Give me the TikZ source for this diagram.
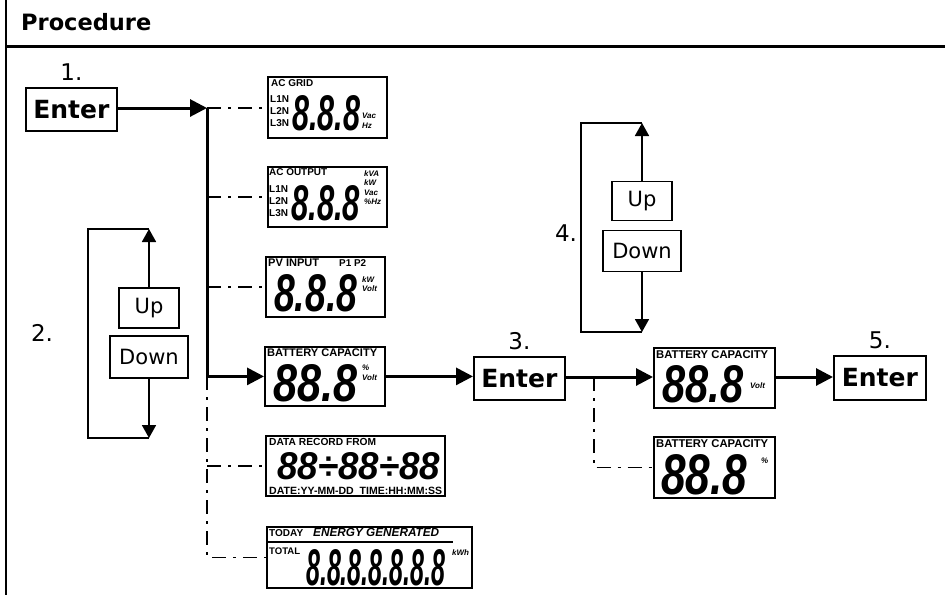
\documentclass[tikz,border=0pt]{standalone}
\usepackage{fontspec}
\usepackage{graphicx}
\setmainfont{DejaVu Sans}
\newfontfamily\lcdsans{Liberation Sans}
\usetikzlibrary{positioning, arrows.meta, calc}

% seven segment style readout, squeezed to a given width and height
\newcommand{\segs}[3]{\resizebox{#1}{#2}{\lcdsans\bfseries\itshape #3}}
% small print of a display, set to a given width
\newcommand{\fitw}[2]{\resizebox{#1}{!}{#2}}

\tikzset{
  entr/.style={draw, line width=1.8pt, inner sep=0pt, minimum width=91pt, minimum height=43pt,
    font=\fontsize{25}{25}\selectfont\bfseries},
  updn/.style={draw, line width=1.5pt, inner sep=0pt, minimum height=40pt,
    font=\fontsize{21}{21}\selectfont},
  stepno/.style={inner sep=0pt, font=\fontsize{23}{23}\selectfont},
  lcd/.style={draw, line width=1.8pt, inner sep=0pt, anchor=north west},
  lbl/.style={inner sep=0pt, anchor=north west, font=\lcdsans\bfseries\fontsize{10}{12}\selectfont},
  lns/.style={lbl, align=left, font=\lcdsans\bfseries\fontsize{10}{12.3}\selectfont},
  unit/.style={lbl, align=left, font=\lcdsans\bfseries\itshape\fontsize{8}{9.5}\selectfont},
  dig/.style={inner sep=0pt, anchor=north west},
  flow/.style={line width=3pt, -{Triangle[length=17pt,width=17pt]}},
  branch/.style={line width=1.6pt, dash pattern=on 14pt off 7pt on 3pt off 7pt},
  updown/.style={line width=1.8pt, -{Triangle[length=13pt,width=14pt]}},
  loopline/.style={line width=1.8pt},
}

\begin{document}
\begin{tikzpicture}[x=1pt, y=-1pt]
    \useasboundingbox (0,0) rectangle (945,595);

    % frame and heading
    \draw[line width=2.5pt] (6,0) -- (6,595);
    \draw[line width=3pt] (6,46) -- (945,46);
    \node[anchor=west, inner sep=0pt, font=\bfseries\fontsize{22.5}{22.5}\selectfont] (title) at (21,22) {Procedure};

    % step 1
    \node[entr, anchor=north west] (enter1) at (25,87) {Enter};
    \node[stepno, above=6pt of enter1] (n1) {1.};

    % step 2
    \node[updn, minimum width=60pt] (up2) at (149,308) {Up};
    \node[updn, minimum width=78pt, minimum height=42pt] (down2) at (149,357) {Down};
    \node[stepno] (n2) at (42,333) {2.};
    \coordinate (l2t) at (149,229);
    \coordinate (l2b) at (149,438);
    \draw[updown] (up2.north) -- (l2t);
    \draw[updown] (down2.south) -- (l2b);
    \draw[loopline] (l2t) -- (88,229) -- (88,438) -- (l2b);

    % displays of the menu
    \node[lcd, minimum width=119pt, minimum height=61pt] (grid) at (267,76) {};
    \node[lbl] (gridt) at (271,79) {\fitw{42pt}{AC GRID}};
    \node[lns] (gridl) at (270,95) {L1N\\L2N\\L3N};
    \node[dig] (gridd) at (292,95) {\segs{68pt}{35pt}{8.8.8}};
    \node[unit] (gridu) at (362,113) {Vac\\Hz};

    \node[lcd, minimum width=119pt, minimum height=60pt] (acout) at (267,166) {};
    \node[lbl] (acoutt) at (269,168) {\fitw{58pt}{AC OUTPUT}};
    \node[lns] (acoutl) at (269,185) {L1N\\L2N\\L3N};
    \node[dig] (acoutd) at (291,185) {\segs{69pt}{35pt}{8.8.8}};
    \node[unit] (acoutu) at (364,170) {kVA\\kW\\Vac\\\%Hz};

    \node[lcd, minimum width=119pt, minimum height=60pt] (pvin) at (265,256) {};
    \node[lbl] (pvint) at (268,259) {\fitw{51pt}{PV INPUT}};
    \node[lbl] (pvinp) at (339,259) {\fitw{27pt}{P1 P2}};
    \node[dig] (pvind) at (274,274) {\segs{83pt}{37pt}{8.8.8}};
    \node[unit] (pvinu) at (362,276) {kW\\Volt};

    \node[lcd, minimum width=120pt, minimum height=59pt] (batt) at (264,346) {};
    \node[lbl] (battt) at (267,349) {\fitw{110pt}{BATTERY CAPACITY}};
    \node[dig] (battd) at (273,364) {\segs{84pt}{37pt}{88.8}};
    \node[unit] (battu) at (362,365) {\%\\Volt};

    \node[lcd, minimum width=179pt, minimum height=60pt] (rec) at (265,435) {};
    \node[lbl] (rect) at (269,438) {\fitw{107pt}{DATA RECORD FROM}};
    \node[dig] (recd) at (277,452) {\segs{163pt}{27pt}{88÷88÷88}};
    \node[lbl] (recb) at (269,487) {\fitw{173pt}{DATE:YY-MM-DD\ \ TIME:HH:MM:SS}};

    \node[lcd, minimum width=205pt, minimum height=61pt] (energy) at (266,526) {};
    \node[lbl] (energyt) at (269,529) {\fitw{34pt}{TODAY}};
    \node[lbl, font=\lcdsans\bfseries\itshape\fontsize{11}{11}\selectfont] (energyg) at (313,528)
        {\fitw{126pt}{ENERGY GENERATED}};
    \draw[line width=1.2pt] (268,542) -- (453,542);
    \node[lbl] (energyl) at (269,548) {\fitw{31pt}{TOTAL}};
    \node[dig] (energyd) at (306,549) {\segs{139pt}{36pt}{8.8.8.8.8.8.8}};
    \node[unit] (energyu) at (452,549) {kWh};

    % links from step 1
    \coordinate (j1) at (207,108);
    \draw[flow] (enter1.east |- j1) -- (j1);
    \draw[flow] (j1) |- (batt.west);
    \draw[branch] (j1) -- (grid.west |- j1);
    \draw[branch] (j1 |- acout.west) -- (acout.west);
    \draw[branch] (j1 |- pvin.west) -- (pvin.west);
    \draw[branch] (j1 |- batt.west) -- (j1 |- energy.west) -- (energy.west);
    \draw[branch] (j1 |- rec.west) -- (rec.west);

    % step 3
    \node[entr, anchor=north west] (enter3) at (473,356) {Enter};
    \node[stepno, above=6pt of enter3] (n3) {3.};
    \draw[flow] (batt.east) -- (batt.east -| enter3.west);

    \node[lcd, minimum width=121pt, minimum height=60pt] (bvolt) at (653,347) {};
    \node[lbl] (bvoltt) at (656,350) {\fitw{112pt}{BATTERY CAPACITY}};
    \node[dig] (bvoltd) at (662,365) {\segs{81pt}{37pt}{88.8}};
    \node[unit] (bvoltu) at (750,382) {Volt};

    \node[lcd, minimum width=121pt, minimum height=61pt] (bpct) at (653,436) {};
    \node[lbl] (bpctt) at (656,439) {\fitw{112pt}{BATTERY CAPACITY}};
    \node[dig] (bpctd) at (661,454) {\segs{86pt}{40pt}{88.8}};
    \node[unit] (bpctu) at (761,458) {\%};

    \coordinate (j3) at (594,377);
    \draw[flow] (enter3.east |- j3) -- (bvolt.west |- j3);
    \draw[branch] (j3) |- (bpct.west);

    % step 4
    \node[updn, minimum width=60pt, minimum height=39pt] (up4) at (642,201) {Up};
    \node[updn, minimum width=78pt, minimum height=41pt] (down4) at (642,251) {Down};
    \node[stepno] (n4) at (566,233) {4.};
    \coordinate (l4t) at (642,123);
    \coordinate (l4b) at (642,332);
    \draw[updown] (up4.north) -- (l4t);
    \draw[updown] (down4.south) -- (l4b);
    \draw[loopline] (l4t) -- (581,123) -- (581,332) -- (l4b);

    % step 5
    \node[entr, anchor=north west, minimum width=92pt, minimum height=44pt] (enter5) at (833,355) {Enter};
    \node[stepno, above=6pt of enter5] (n5) {5.};
    \draw[flow] (bvolt.east |- j3) -- (enter5.west |- j3);
\end{tikzpicture}
\end{document}
